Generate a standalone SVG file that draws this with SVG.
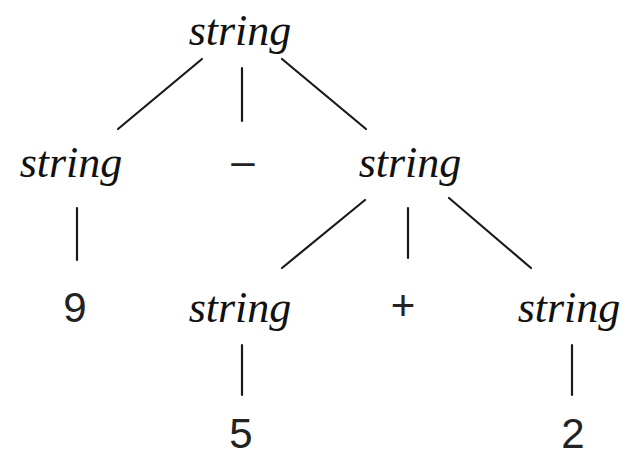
<svg xmlns="http://www.w3.org/2000/svg" width="632" height="457" viewBox="0 0 632 457">
<style>
.nt{font-family:"Liberation Serif","Times New Roman",serif;font-style:italic;font-size:44px;fill:#111;text-anchor:middle}
.t{font-family:"Liberation Sans",Arial,sans-serif;font-size:42px;fill:#222;text-anchor:middle}
.e{stroke:#1a1a1a;stroke-width:2.2;stroke-linecap:round;fill:none}
</style>
<rect width="632" height="457" fill="#fff"/>
<g id="connectors">
<line class="e" x1="202" y1="59" x2="118" y2="129"/>
<line class="e" x1="242" y1="68" x2="242" y2="121"/>
<line class="e" x1="282" y1="59" x2="366" y2="129"/>
<line class="e" x1="77" y1="208" x2="77" y2="260"/>
<line class="e" x1="365" y1="200" x2="282" y2="268"/>
<line class="e" x1="408" y1="208" x2="408" y2="258"/>
<line class="e" x1="449" y1="198" x2="531" y2="268"/>
<line class="e" x1="242" y1="345" x2="242" y2="395"/>
<line class="e" x1="572" y1="345" x2="572" y2="395"/>
</g>
<g id="n-root"><text class="nt" x="240" y="45">string</text></g>
<g id="n-left"><text class="nt" x="71" y="177">string</text></g>
<g id="n-minus"><text class="t" x="243" y="175" font-size="34">–</text></g>
<g id="n-right"><text class="nt" x="410" y="177">string</text></g>
<g id="n-9"><text class="t" x="75" y="322">9</text></g>
<g id="n-rl"><text class="nt" x="240" y="322">string</text></g>
<g id="n-plus"><text class="t" x="403" y="320">+</text></g>
<g id="n-rr"><text class="nt" x="569" y="322">string</text></g>
<g id="n-5"><text class="t" x="241" y="448">5</text></g>
<g id="n-2"><text class="t" x="573" y="448">2</text></g>
</svg>
